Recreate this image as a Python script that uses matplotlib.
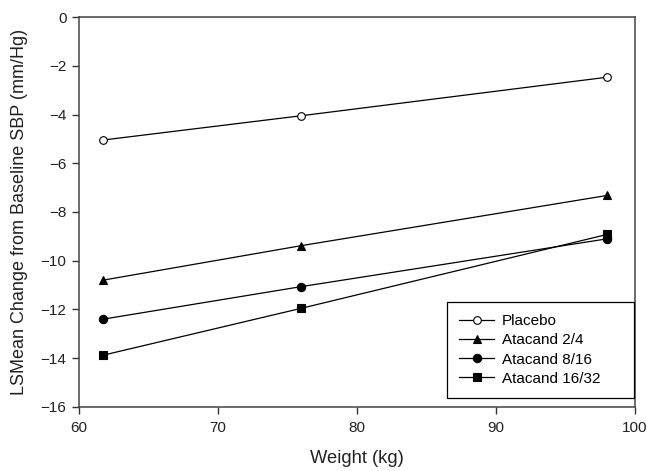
import matplotlib
matplotlib.use("Agg")
import matplotlib.pyplot as plt

plt.rcParams['font.family'] = ['Liberation Sans', 'DejaVu Sans']

weights = [61.7, 76.0, 98.0]
placebo = [-5.05, -4.05, -2.47]
atacand_2_4 = [-10.8, -9.38, -7.32]
atacand_8_16 = [-12.4, -11.06, -9.1]
atacand_16_32 = [-13.88, -11.95, -8.92]

series = [
    ("Placebo", placebo, "o", "white"),
    ("Atacand 2/4", atacand_2_4, "^", "black"),
    ("Atacand 8/16", atacand_8_16, "o", "black"),
    ("Atacand 16/32", atacand_16_32, "s", "black"),
]

fig = plt.figure(figsize=(6.47, 4.71), dpi=100)
ax = fig.add_axes([0.1221, 0.1359, 0.8594, 0.828])

for label, vals, marker, face in series:
    ms = 6 if marker != "o" or face == "black" else 5.5
    ax.plot(weights, vals, color="black", linewidth=0.9, marker=marker,
            markersize=ms, markerfacecolor=face, markeredgecolor="black",
            markeredgewidth=0.8, label=label)

ax.set_xlim(60, 100)
ax.set_ylim(-16, 0)
ax.set_xticks([60, 70, 80, 90, 100])
ax.set_yticks(list(range(-16, 1, 2)))
ax.tick_params(axis='both', direction='out', length=5, width=1, labelsize=11,
               colors='#333333', labelcolor='#222222', top=False, right=False)
ax.tick_params(axis='x', pad=5)
ax.tick_params(axis='y', pad=4)
for s in ax.spines.values():
    s.set_color('#444444')
    s.set_linewidth(1.1)

ax.set_xlabel("Weight (kg)", fontsize=13.2, color='#222222', labelpad=11)
ax.set_ylabel("LSMean Change from Baseline SBP (mm/Hg)", fontsize=13, color='#222222', labelpad=9)

leg = ax.legend(loc='lower left', bbox_to_anchor=(0.662, 0.023, 0.336, 0.25),
                mode='expand', fontsize=11,
                frameon=True, fancybox=False, edgecolor='black', framealpha=1,
                handlelength=2.3, borderpad=0.8, labelspacing=0.34, handletextpad=0.5,
                borderaxespad=0)
leg.get_frame().set_linewidth(0.9)

fig.savefig("out.png", dpi=100)
